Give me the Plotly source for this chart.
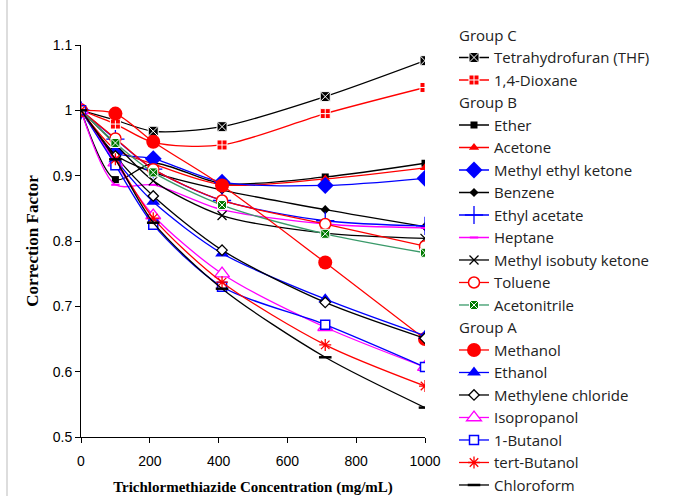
import plotly.graph_objects as go

conc = [0, 100, 210, 410, 710, 1000]

thf = [1.0, 0.985, 0.968, 0.975, 1.021, 1.076]
dioxane = [1.0, 0.979, 0.951, 0.947, 0.995, 1.035]
ether = [1.0, 0.894, 0.919, 0.888, 0.898, 0.919]
acetone = [1.0, 0.94, 0.918, 0.886, 0.895, 0.912]
mek = [1.0, 0.935, 0.926, 0.890, 0.885, 0.896]
benzene = [1.0, 0.932, 0.905, 0.878, 0.848, 0.822]
ethyl_acetate = [1.0, 0.956, 0.91, 0.862, 0.831, 0.823]
heptane = [1.0, 0.886, 0.886, 0.848, 0.826, 0.82]
mibk = [1.0, 0.948, 0.892, 0.839, 0.812, 0.804]
toluene = [1.0, 0.957, 0.91, 0.862, 0.826, 0.792]
acetonitrile = [1.0, 0.95, 0.905, 0.855, 0.811, 0.782]
methanol = [1.0, 0.995, 0.952, 0.885, 0.767, 0.65]
ethanol = [1.0, 0.925, 0.86, 0.781, 0.711, 0.655]
methylene_chloride = [1.0, 0.93, 0.869, 0.786, 0.706, 0.651]
isopropanol = [1.0, 0.92, 0.839, 0.75, 0.668, 0.607]
butanol = [1.0, 0.916, 0.825, 0.73, 0.672, 0.607]
tert_butanol = [1.0, 0.925, 0.835, 0.737, 0.641, 0.578]
chloroform = [1.0, 0.925, 0.828, 0.727, 0.622, 0.545]

# (name, values, group, line color, symbol, size, marker fill, marker line color, marker line width)
series = [
    ("Tetrahydrofuran (THF)", thf, "Group C", "black", "square-x", 10, "black", "white", 1),
    ("1,4-Dioxane", dioxane, "Group C", "red", "square-cross", 10, "red", "white", 1),
    ("Ether", ether, "Group B", "black", "square", 7, "black", "black", 0),
    ("Acetone", acetone, "Group B", "red", "triangle-up", 9, "red", "red", 0),
    ("Methyl ethyl ketone", mek, "Group B", "blue", "diamond", 13, "blue", "blue", 0),
    ("Benzene", benzene, "Group B", "black", "diamond", 7, "black", "black", 0),
    ("Ethyl acetate", ethyl_acetate, "Group B", "blue", "cross-thin-open", 13, "blue", "blue", 1.3),
    ("Heptane", heptane, "Group B", "magenta", "line-ew-open", 6, "magenta", "magenta", 2),
    ("Methyl isobuty ketone", mibk, "Group B", "black", "x-thin-open", 9, "black", "black", 1.3),
    ("Toluene", toluene, "Group B", "red", "circle", 11, "white", "red", 1.5),
    ("Acetonitrile", acetonitrile, "Group B", "#3a9a6a", "square-x", 9, "#007a00", "white", 1),
    ("Methanol", methanol, "Group A", "red", "circle", 14, "red", "red", 0),
    ("Ethanol", ethanol, "Group A", "blue", "triangle-up", 12, "blue", "blue", 0),
    ("Methylene chloride", methylene_chloride, "Group A", "black", "diamond", 8, "white", "black", 1.3),
    ("Isopropanol", isopropanol, "Group A", "magenta", "triangle-up", 13, "white", "magenta", 1.3),
    ("1-Butanol", butanol, "Group A", "blue", "square", 9, "white", "blue", 1.5),
    ("tert-Butanol", tert_butanol, "Group A", "red", "asterisk-open", 10, "red", "red", 1.3),
    ("Chloroform", chloroform, "Group A", "black", "line-ew-open", 9, "black", "black", 2.5),
]

legend_font = dict(family="Open Sans", size=15, color="#222222")

fig = go.Figure()
for name, vals, grp, lc, sym, sz, fill, mlc, mlw in series:
    fig.add_trace(go.Scatter(
        x=conc, y=vals, name=name, mode="lines+markers",
        legendgroup=grp,
        legendgrouptitle=dict(text=grp, font=legend_font),
        line=dict(color=lc, width=1.3, shape="spline", smoothing=0.8),
        marker=dict(symbol=sym, size=sz, color=fill, line=dict(color=mlc, width=mlw)),
    ))

ml, plot_w = 81, 344
mb, plot_h = 59, 392

fig.update_layout(
    width=675, height=496,
    margin=dict(l=ml, r=675 - ml - plot_w, t=496 - mb - plot_h, b=mb, autoexpand=False),
    paper_bgcolor="white", plot_bgcolor="white",
    font=dict(family="Liberation Sans", size=14, color="black"),
    showlegend=True,
    legend=dict(x=(454 - ml) / plot_w, xanchor="left", y=1.067, yanchor="top",
                font=legend_font, tracegroupgap=0, bgcolor="rgba(0,0,0,0)",
                itemwidth=30, maxheight=1000),
    xaxis=dict(range=[0, 1000], tick0=0, dtick=200, showgrid=False, zeroline=False,
               showline=True, linecolor="black", linewidth=1, ticks="outside",
               ticklen=5, tickcolor="black", ticklabelstandoff=6,
               title=dict(text="<b>Trichlormethiazide Concentration (mg/mL)</b>",
                          font=dict(family="Liberation Serif", size=15, color="black"),
                          standoff=16)),
    yaxis=dict(range=[0.5, 1.1], tick0=0.5, dtick=0.1, showgrid=False, zeroline=False,
               showline=True, linecolor="black", linewidth=1, ticks="outside",
               ticklen=5, tickcolor="black", ticklabelstandoff=0,
               title=dict(text="<b>Correction Factor</b>",
                          font=dict(family="Liberation Serif", size=17, color="black"),
                          standoff=9)),
    shapes=[dict(type="line", xref="paper", yref="paper",
                 x0=(7 - ml) / plot_w, x1=(7 - ml) / plot_w, y0=-0.2, y1=1.2,
                 line=dict(color="#bbbbbb", width=1))],
)

fig.write_html("out.html", config={"displayModeBar": False},
               post_script="document.body.style.margin='0';")
